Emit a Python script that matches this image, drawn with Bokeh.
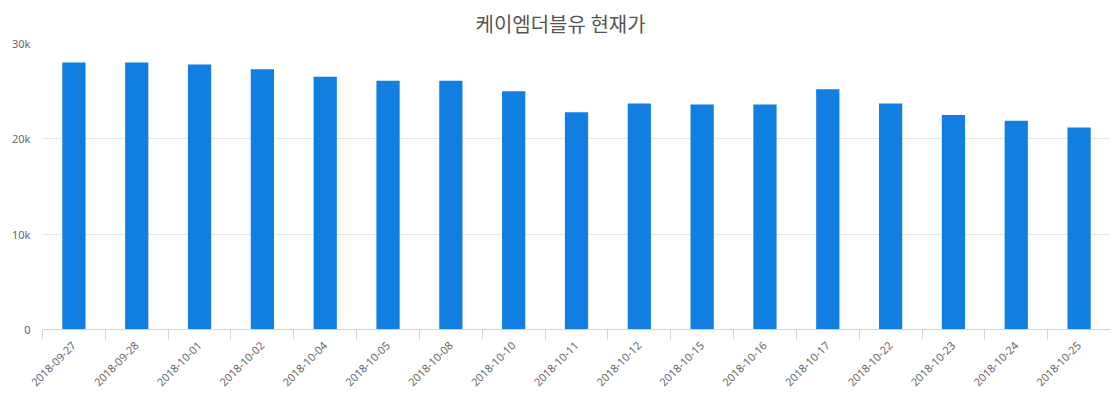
from math import pi

from bokeh.embed import file_html
from bokeh.models import FixedTicker, Range1d
from bokeh.plotting import figure
from bokeh.resources import INLINE

# data
dates = ["2018-09-27", "2018-09-28", "2018-10-01", "2018-10-02", "2018-10-04",
         "2018-10-05", "2018-10-08", "2018-10-10", "2018-10-11", "2018-10-12",
         "2018-10-15", "2018-10-16", "2018-10-17", "2018-10-22", "2018-10-23",
         "2018-10-24", "2018-10-25"]
prices = [28000, 28000, 27800, 27300, 26500, 26100, 26100, 25000, 22800, 23700,
          23600, 23600, 25200, 23700, 22500, 21900, 21200]
y_ticks = [0, 10000, 20000, 30000]
y_labels = ["0", "10k", "20k", "30k"]

font = "Noto Sans"
label_color = "#666666"

p = figure(width=1110, height=392, output_backend="svg", toolbar_location=None,
           title="케이엠더블유 현재가",
           x_range=Range1d(0, len(dates)), y_range=Range1d(0, 30000),
           min_border_left=42, min_border_right=0, min_border_top=10,
           min_border_bottom=10)
p.outline_line_color = None

# title sits on the chart's centre, a little left of the plot area's centre
p.title.align = "left"
p.title.offset = 433
p.title.text_font = "Noto Sans CJK KR"
p.title.text_font_size = "20px"
p.title.text_font_style = "normal"
p.title.text_color = "#555555"
p.title.standoff = 12

centers = [i + 0.5 for i in range(len(dates))]
p.vbar(x=centers, top=prices, width=0.37, bottom=0,
       fill_color="#117ee1", line_color=None)

# x axis: labels at category centers, tick marks on category edges
p.xaxis.ticker = FixedTicker(ticks=centers, minor_ticks=list(range(len(dates) + 1)))
p.xaxis.major_label_overrides = {c: d for c, d in zip(centers, dates)}
p.xaxis.major_label_orientation = pi / 4
p.xaxis.major_tick_line_color = None
p.xaxis.minor_tick_line_color = "#ccd6eb"
p.xaxis.minor_tick_out = 10
p.xaxis.minor_tick_in = 0
p.xaxis.axis_line_color = "#ccd6eb"
p.xaxis.major_label_text_font = font
p.xaxis.major_label_text_font_size = "11px"
p.xaxis.major_label_text_color = label_color
p.xaxis.major_label_standoff = 4
p.xgrid.grid_line_color = None

# y axis
p.yaxis.ticker = FixedTicker(ticks=y_ticks)
p.yaxis.major_label_overrides = {t: l for t, l in zip(y_ticks, y_labels)}
p.yaxis.axis_line_color = None
p.yaxis.major_tick_line_color = None
p.yaxis.minor_tick_line_color = None
p.yaxis.major_label_text_font = font
p.yaxis.major_label_text_font_size = "11px"
p.yaxis.major_label_text_color = label_color
p.yaxis.major_label_standoff = 6
p.ygrid.grid_line_color = "#e6e6e6"

open("out.html", "w").write(file_html(p, INLINE))
